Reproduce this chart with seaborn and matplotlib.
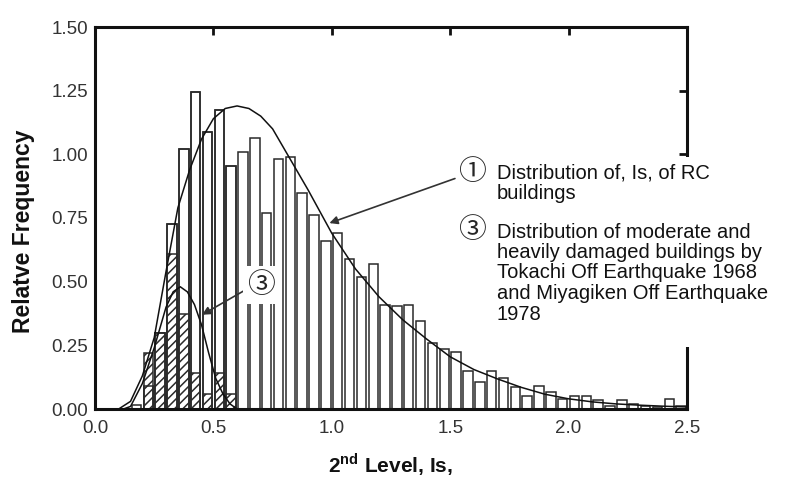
import numpy as np
import pandas as pd
import matplotlib
matplotlib.use("Agg")
import matplotlib.pyplot as plt
import seaborn as sns
from matplotlib.patches import Rectangle

# ---------------- data ----------------
bin_left_rc = [0.15, 0.20, 0.25, 0.30, 0.35, 0.40, 0.45, 0.50, 0.55, 0.60,
               0.65, 0.70, 0.75, 0.80, 0.85, 0.90, 0.95, 1.00, 1.05, 1.10,
               1.15, 1.20, 1.25, 1.30, 1.35, 1.40, 1.45, 1.50, 1.55, 1.60,
               1.65, 1.70, 1.75, 1.80, 1.85, 1.90, 1.95, 2.00, 2.05, 2.10,
               2.15, 2.20, 2.25, 2.30, 2.35, 2.40, 2.45]
freq_rc = [0.015, 0.09, 0.30, 0.727, 1.02, 1.245, 1.089, 1.174, 0.954, 1.01,
           1.063, 0.769, 0.98, 0.99, 0.85, 0.76, 0.66, 0.69, 0.59, 0.52,
           0.57, 0.41, 0.405, 0.41, 0.345, 0.26, 0.235, 0.225, 0.15, 0.105,
           0.15, 0.12, 0.088, 0.05, 0.092, 0.065, 0.04, 0.053, 0.053, 0.035,
           0.012, 0.035, 0.02, 0.01, 0.006, 0.04, 0.01]

bin_left_dmg = [0.20, 0.25, 0.30, 0.35, 0.40, 0.45, 0.50, 0.55]
freq_dmg = [0.22, 0.30, 0.61, 0.375, 0.14, 0.06, 0.14, 0.06]

curve_rc_x = [0.10, 0.15, 0.20, 0.25, 0.30, 0.35, 0.40, 0.45, 0.50, 0.55,
              0.60, 0.65, 0.70, 0.75, 0.80, 0.85, 0.90, 0.95, 1.00, 1.05,
              1.10, 1.20, 1.30, 1.40, 1.50, 1.60, 1.70, 1.80, 1.90, 2.00,
              2.10, 2.20, 2.30, 2.40, 2.50]
curve_rc_y = [0.00, 0.03, 0.13, 0.28, 0.54, 0.79, 0.94, 1.06, 1.14, 1.18,
              1.19, 1.18, 1.15, 1.10, 1.02, 0.94, 0.86, 0.775, 0.69, 0.62,
              0.55, 0.44, 0.35, 0.275, 0.205, 0.155, 0.118, 0.085, 0.058, 0.04,
              0.028, 0.02, 0.015, 0.011, 0.008]

curve_dmg_x = [0.12, 0.15, 0.20, 0.25, 0.30, 0.33, 0.36, 0.39, 0.42, 0.45,
               0.48, 0.51, 0.54, 0.57, 0.60]
curve_dmg_y = [0.00, 0.01, 0.10, 0.24, 0.40, 0.46, 0.48, 0.46, 0.41, 0.33,
               0.22, 0.12, 0.06, 0.02, 0.00]

x_ticks = [0.0, 0.5, 1.0, 1.5, 2.0, 2.5]
x_tick_labels = ["0.0", "0.5", "1.0", "1.5", "2.0", "2.5"]
y_ticks = [0.0, 0.25, 0.5, 0.75, 1.0, 1.25, 1.5]
y_tick_labels = ["0.00", "0.25", "0.50", "0.75", "1.00", "1.25", "1.50"]

label_rc = ["Distribution of, Is, of RC", "buildings"]
label_dmg = ["Distribution of moderate and", "heavily damaged buildings by",
             "Tokachi Off Earthquake 1968", "and Miyagiken Off Earthquake", "1978"]

# ---------------- style ----------------
sns.set_theme(style="white")
plt.rcParams["font.family"] = ["Liberation Sans", "DejaVu Sans"]
plt.rcParams["mathtext.fontset"] = "custom"
plt.rcParams["mathtext.rm"] = "Liberation Sans"
plt.rcParams["mathtext.bf"] = "Liberation Sans:bold"
plt.rcParams["hatch.linewidth"] = 1.1
plt.rcParams["hatch.color"] = "#222222"

W, H = 787, 480
fig = plt.figure(figsize=(W / 100, H / 100), dpi=100)
fig.patch.set_facecolor("white")
ax = fig.add_axes([95 / W, 71 / H, 592 / W, 382 / H])

BW = 0.05
EDGE = "#2a2a2a"
df_rc = pd.DataFrame({"x": np.array(bin_left_rc) + BW / 2, "w": freq_rc})
df_dmg = pd.DataFrame({"x": np.array(bin_left_dmg) + BW / 2, "w": freq_dmg})
df_rc_under = pd.DataFrame({"x": df_dmg["x"],
                            "w": [freq_rc[bin_left_rc.index(b)] for b in bin_left_dmg]})
range_rc = (bin_left_rc[0], bin_left_rc[-1] + BW)
range_dmg = (bin_left_dmg[0], bin_left_dmg[-1] + BW)

# white bars (distribution 1)
sns.histplot(data=df_rc, x="x", weights="w", binwidth=BW, binrange=range_rc,
             shrink=0.8, color="white", alpha=1, edgecolor=EDGE,
             linewidth=1.1, ax=ax)
n0 = len(ax.patches)
# hatched bars (distribution 3)
sns.histplot(data=df_dmg, x="x", weights="w", binwidth=BW, binrange=range_dmg,
             shrink=0.8, color="white", alpha=1, edgecolor=EDGE,
             linewidth=1.1, ax=ax)
for p in ax.patches[n0:]:
    p.set_hatch("////")
# outlines of distribution 1 over the hatched bars
sns.histplot(data=df_rc_under, x="x", weights="w", binwidth=BW, binrange=range_dmg,
             shrink=0.8, fill=False, color=EDGE, linewidth=1.1, ax=ax)

# curves
sns.lineplot(x=curve_rc_x, y=curve_rc_y, color="#111111", linewidth=1.1, ax=ax)
sns.lineplot(x=curve_dmg_x, y=curve_dmg_y, color="#111111", linewidth=1.1, ax=ax)

ax.set_xlim(0, 2.5)
ax.set_ylim(0, 1.5)
ax.set_xticks(x_ticks)
ax.set_xticklabels(x_tick_labels)
ax.set_yticks(y_ticks)
ax.set_yticklabels(y_tick_labels)
ax.set_xlabel("")
ax.set_ylabel("")
ax.tick_params(axis="both", direction="in", length=6, width=2, top=True,
               right=True, labelsize=13.5, labelcolor="#333333", color="#111111")
ax.tick_params(axis="x", pad=8)
ax.tick_params(axis="y", pad=5)
for s in ax.spines.values():
    s.set_visible(True)
    s.set_linewidth(2.2)
    s.set_color("#111111")

# annotation arrows
ax.annotate("", xy=(0.99, 0.73), xytext=(1.52, 0.905),
            arrowprops=dict(arrowstyle="-|>", color="#333333", lw=1.2,
                            mutation_scale=12, shrinkA=0, shrinkB=0))
ax.annotate("", xy=(0.452, 0.37), xytext=(0.636, 0.468),
            arrowprops=dict(arrowstyle="-|>", color="#333333", lw=1.2,
                            mutation_scale=12, shrinkA=0, shrinkB=0))
ax.text(0.70, 0.488, "③", fontsize=20, family=["Noto Sans CJK JP", "DejaVu Sans"],
        ha="center", va="center", zorder=6,
        bbox=dict(facecolor="white", edgecolor="none", pad=3))

# white box behind legend text
fig.add_artist(Rectangle((458 / W, 1 - 347 / H), (W - 458) / W, (347 - 157) / H,
                         transform=fig.transFigure, facecolor="white",
                         edgecolor="none", zorder=3))


def fx(px):
    return px / W


def fy(py):
    return 1 - py / H


fig.text(fx(471.7), fy(172.5), "①", fontsize=20, family=["Noto Sans CJK JP", "DejaVu Sans"],
         ha="center", va="center", zorder=5)
fig.text(fx(471.7), fy(230), "③", fontsize=20, family=["Noto Sans CJK JP", "DejaVu Sans"],
         ha="center", va="center", zorder=5)
for i, t in enumerate(label_rc):
    fig.text(fx(497), fy(173 + 20.5 * i), t, fontsize=14.5, ha="left",
             va="center", color="#111111", zorder=5)
for i, t in enumerate(label_dmg):
    fig.text(fx(497), fy(232 + 20.5 * i), t, fontsize=14.5, ha="left",
             va="center", color="#111111", zorder=5)

fig.text(fx(24), fy(231), "Relatve Frequency", rotation=90, fontsize=16.5,
         fontweight="bold", ha="center", va="center", color="#111111")
fig.text(fx(390), fy(465), r"2$^{\mathbf{nd}}$ Level, Is,", fontsize=15,
         fontweight="bold", ha="center", va="center", color="#111111")

fig.savefig("out.png", dpi=100, facecolor="white")
